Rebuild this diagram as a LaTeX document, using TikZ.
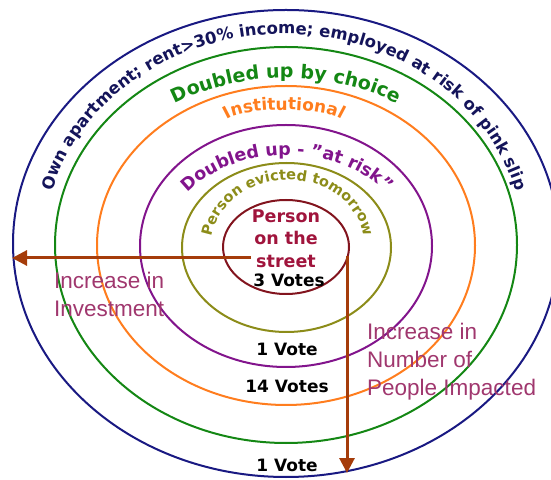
\documentclass[tikz,border=0pt]{standalone}
\usepackage{fontspec}
\setmainfont{DejaVu Sans}
\newfontfamily\plainfont{Liberation Sans}
\usepackage{tikz}
\usetikzlibrary{arrows.meta,decorations.text}
\definecolor{ringnavy}{RGB}{25,25,130}
\definecolor{ringgreen}{RGB}{20,135,20}
\definecolor{ringorange}{RGB}{255,125,30}
\definecolor{ringpurple}{RGB}{130,20,140}
\definecolor{ringolive}{RGB}{140,140,25}
\definecolor{ringred}{RGB}{130,20,30}
\definecolor{txtnavy}{RGB}{20,20,90}
\definecolor{txtred}{RGB}{160,20,60}
\definecolor{arrowbrown}{RGB}{165,60,10}
\definecolor{txtplum}{RGB}{160,55,110}

\begin{document}
\begin{tikzpicture}[x=1pt,y=1pt]
% styles
\tikzset{ring/.style={line width=2pt},
    votes/.style={font=\bfseries\fontsize{17}{17}\selectfont,inner sep=0pt},
    gain/.style={arrowbrown,line width=3pt,-{Triangle[length=15pt,width=15pt]}},
    gaintext/.style={txtplum,font=\plainfont\fontsize{22.5}{28}\selectfont,align=left,inner sep=0pt}}

%% CONFIG
\def\fontRing{16.5}
\def\fontMid{19}

%% Macro for a label bent along the top of a ring
% 1: colour  2: font size  3,4: centre  5,6: radii  7: text
\newcommand{\ringlabel}[7]{
    \path[decorate,decoration={text along path,text align=center,text color=#1,
        text={|\bfseries\fontsize{#2}{#2}\selectfont|#7}}]
        (#3-#5,#4) arc[start angle=180,end angle=0,x radius=#5,y radius=#6];
}

\clip (0,0) rectangle (551,479);

% Draw the rings, inside out
\foreach \col/\cx/\cy/\rx/\ry in {ringred/286/232/63/47,
    ringolive/286.5/231.5/104.5/84.5, ringpurple/286/233/146/121,
    ringorange/286/233.5/189/159.5, ringgreen/286/234/231/198,
    ringnavy/286/235.5/273/233.5}{
    \draw[ring,\col] (\cx,\cy) ellipse[x radius=\rx,y radius=\ry];
}

% Bent labels
\ringlabel{txtnavy}{\fontRing}{284}{233}{240}{212}{Own apartment; rent>30{\%} income; employed at risk of pink slip}
\ringlabel{ringgreen}{\fontMid}{286}{233}{210}{168}{Doubled up by choice}
\ringlabel{ringorange}{17}{284}{355}{60}{14}{Institutional}
\ringlabel{ringpurple}{17.5}{287}{233}{123}{91}{Doubled up - "at risk"}
\ringlabel{ringolive}{14.5}{288}{233}{77}{66}{Person evicted tomorrow}

% Centre and votes
\node[txtred,align=center,font=\bfseries\fontsize{17.5}{22.5}\selectfont,inner sep=0pt] (street) at (286,240.5) {Person\\on the\\street};
\node[votes] (v3) at (289,199) {3 Votes};
\node[votes] (v1a) at (287,130) {1 Vote};
\node[votes] (v14) at (287,93) {14 Votes};
\node[votes] (v1b) at (287,14) {1 Vote};

% Draw the two arrows
\coordinate (hstart) at (251,221);
\coordinate (htip) at (12,221);
\coordinate (vstart) at (347,222.5);
\coordinate (vtip) at (347,6);
\draw[gain] (hstart) -- (htip);
\draw[gain] (vstart) -- (vtip);

% Arrow captions
\node[gaintext,anchor=north west] (invest) at (54,207) {Increase in\\Investment};
\node[gaintext,anchor=north west] (people) at (367,156) {Increase in\\Number of\\People Impacted};
\end{tikzpicture}
\end{document}
